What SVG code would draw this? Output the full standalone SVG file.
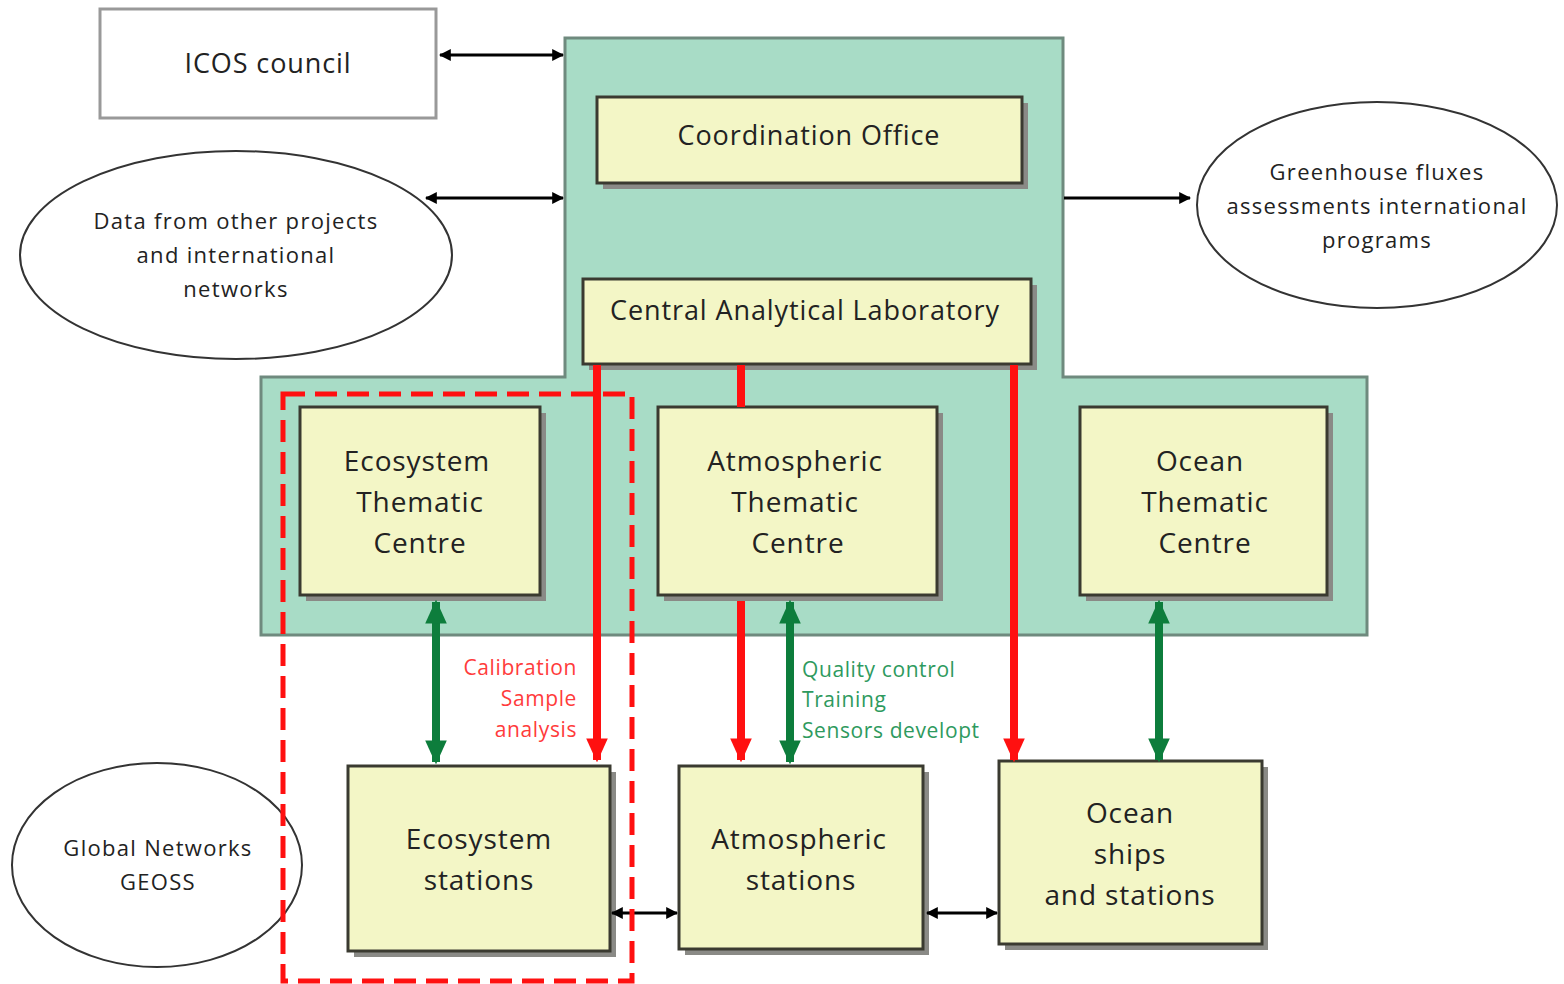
<svg xmlns="http://www.w3.org/2000/svg" width="1564" height="984" viewBox="0 0 1564 984">
<defs>
<style>
.box{fill:#f3f6c6;stroke:#3a3a30;stroke-width:3}
.shadow{fill:#8a8a86}
.ell{fill:#fff;stroke:#333;stroke-width:2}
.t{font-family:"Open Sans","Liberation Sans",sans-serif;fill:#222;text-anchor:middle;letter-spacing:0.9px}
.e{font-size:22px;letter-spacing:1.3px}
.blk{stroke:#000;stroke-width:3;fill:none}
.red{stroke:#ff1010;stroke-width:8;fill:none}
.grn{stroke:#0d7d3c;stroke-width:8;fill:none}
</style>
<marker id="ab" viewBox="0 0 10 10" refX="9" refY="5" markerWidth="4" markerHeight="4" orient="auto-start-reverse"><path d="M0,0L10,5L0,10z" fill="#000"/></marker>
<marker id="ar" viewBox="0 0 10 10" refX="9" refY="5" markerWidth="3" markerHeight="3" orient="auto-start-reverse"><path d="M0,0.5L10,5L0,9.5z" fill="#ff1010"/></marker>
<marker id="ag" viewBox="0 0 10 10" refX="9" refY="5" markerWidth="3" markerHeight="3" orient="auto-start-reverse"><path d="M0,0.5L10,5L0,9.5z" fill="#0d7d3c"/></marker>
</defs>
<rect width="1564" height="984" fill="#fff"/>
<g id="icos-area">
<path d="M565,38H1063V377H1367V635H261V377H565Z" fill="#a8dcc6" stroke="#6f8a7e" stroke-width="3"/>
</g>
<g id="icos-council">
<rect x="100" y="9" width="336" height="109" fill="#fff" stroke="#999" stroke-width="3"/>
<text class="t" x="268" y="73" font-size="27">ICOS council</text>
</g>
<g id="data-other">
<ellipse class="ell" cx="236" cy="255" rx="216" ry="104"/>
<text class="t e" x="236" y="229">Data from other projects</text>
<text class="t e" x="236" y="263">and international</text>
<text class="t e" x="236" y="297">networks</text>
</g>
<g id="greenhouse">
<ellipse class="ell" cx="1377" cy="205" rx="180" ry="103"/>
<text class="t e" x="1377" y="180">Greenhouse fluxes</text>
<text class="t e" x="1377" y="214">assessments international</text>
<text class="t e" x="1377" y="248">programs</text>
</g>
<g id="global-networks">
<ellipse class="ell" cx="157" cy="865" rx="145" ry="102"/>
<text class="t e" x="158" y="856">Global Networks</text>
<text class="t e" x="158" y="890">GEOSS</text>
</g>
<g id="coordination-office">
<rect class="shadow" x="603" y="103" width="425" height="86"/>
<rect class="box" x="597" y="97" width="425" height="86"/>
<text class="t" x="809" y="145" font-size="27">Coordination Office</text>
</g>
<g id="cal">
<rect class="shadow" x="589" y="285" width="448" height="85"/>
<rect class="box" x="583" y="279" width="448" height="85"/>
<text class="t" x="805" y="320" font-size="27">Central Analytical Laboratory</text>
</g>
<g id="etc">
<rect class="shadow" x="306" y="413" width="240" height="188"/>
<rect class="box" x="300" y="407" width="240" height="188"/>
<text class="t" x="417" y="471" font-size="28">Ecosystem</text>
<text class="t" x="420" y="512" font-size="28">Thematic</text>
<text class="t" x="420" y="553" font-size="28">Centre</text>
</g>
<g id="atc">
<rect class="shadow" x="664" y="413" width="279" height="188"/>
<rect class="box" x="658" y="407" width="279" height="188"/>
<text class="t" x="795" y="471" font-size="28">Atmospheric</text>
<text class="t" x="795" y="512" font-size="28">Thematic</text>
<text class="t" x="798" y="553" font-size="28">Centre</text>
</g>
<g id="otc">
<rect class="shadow" x="1086" y="413" width="247" height="188"/>
<rect class="box" x="1080" y="407" width="247" height="188"/>
<text class="t" x="1200" y="471" font-size="28">Ocean</text>
<text class="t" x="1205" y="512" font-size="28">Thematic</text>
<text class="t" x="1205" y="553" font-size="28">Centre</text>
</g>
<g id="eco-stations">
<rect class="shadow" x="354" y="772" width="262" height="185"/>
<rect class="box" x="348" y="766" width="262" height="185"/>
<text class="t" x="479" y="849" font-size="28">Ecosystem</text>
<text class="t" x="479" y="890" font-size="28">stations</text>
</g>
<g id="atm-stations">
<rect class="shadow" x="685" y="772" width="244" height="183"/>
<rect class="box" x="679" y="766" width="244" height="183"/>
<text class="t" x="799" y="849" font-size="28">Atmospheric</text>
<text class="t" x="801" y="890" font-size="28">stations</text>
</g>
<g id="ocean-stations">
<rect class="shadow" x="1005" y="767" width="263" height="183"/>
<rect class="box" x="999" y="761" width="263" height="183"/>
<text class="t" x="1130" y="823" font-size="28">Ocean</text>
<text class="t" x="1130" y="864" font-size="28">ships</text>
<text class="t" x="1130" y="905" font-size="28">and stations</text>
</g>
<g id="connectors">
<line class="blk" x1="440" y1="55" x2="563" y2="55" marker-start="url(#ab)" marker-end="url(#ab)"/>
<line class="blk" x1="426" y1="198" x2="563" y2="198" marker-start="url(#ab)" marker-end="url(#ab)"/>
<line class="blk" x1="1064" y1="198" x2="1190" y2="198" marker-end="url(#ab)"/>
<line class="blk" x1="612" y1="913" x2="677" y2="913" marker-start="url(#ab)" marker-end="url(#ab)"/>
<line class="blk" x1="927" y1="913" x2="997" y2="913" marker-start="url(#ab)" marker-end="url(#ab)"/>
<line class="red" x1="597" y1="365" x2="597" y2="760" marker-end="url(#ar)"/>
<line class="red" x1="741" y1="365" x2="741" y2="407"/>
<line class="red" x1="741" y1="601" x2="741" y2="760" marker-end="url(#ar)"/>
<line class="red" x1="1014" y1="365" x2="1014" y2="760" marker-end="url(#ar)"/>
<line class="grn" x1="436" y1="602" x2="436" y2="762" marker-start="url(#ag)" marker-end="url(#ag)"/>
<line class="grn" x1="790" y1="602" x2="790" y2="762" marker-start="url(#ag)" marker-end="url(#ag)"/>
<line class="grn" x1="1159" y1="602" x2="1159" y2="760" marker-start="url(#ag)" marker-end="url(#ag)"/>
</g>
<g id="labels" font-family="'Open Sans','Liberation Sans',sans-serif" font-size="21" letter-spacing="0.6">
<text x="577" y="675" text-anchor="end" fill="#ff3b3b">Calibration</text>
<text x="577" y="706" text-anchor="end" fill="#ff3b3b">Sample</text>
<text x="577" y="737" text-anchor="end" fill="#ff3b3b">analysis</text>
<text x="802" y="677" fill="#2e9a5e">Quality control</text>
<text x="802" y="707" fill="#2e9a5e">Training</text>
<text x="802" y="738" fill="#2e9a5e">Sensors developt</text>
</g>
<g id="focus-box">
<rect x="283" y="394" width="349" height="587" fill="none" stroke="#ff1010" stroke-width="5" stroke-dasharray="22 10"/>
</g>
</svg>
